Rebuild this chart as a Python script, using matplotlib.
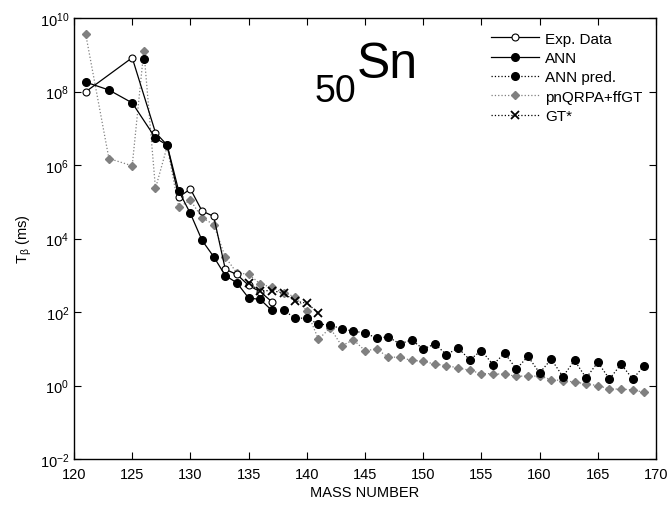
import numpy as np
import matplotlib
matplotlib.use("Agg")
import matplotlib.pyplot as plt
from matplotlib.ticker import LogLocator, NullLocator

plt.rcParams['font.family'] = ['Liberation Sans', 'DejaVu Sans']
plt.rcParams['mathtext.fontset'] = 'custom'
plt.rcParams['mathtext.rm'] = 'Liberation Sans'
plt.rcParams['mathtext.it'] = 'Liberation Sans:italic'
plt.rcParams['font.size'] = 10.5

# measured half-lives (ms)
exp_A = [121, 125, 127, 128, 129, 130, 131, 132, 133, 134, 135, 136, 137]
exp_T = [9.8e7, 8.3e8, 7.6e6, 3.5e6, 1.34e5, 2.23e5, 5.6e4, 4.0e4, 1.45e3, 1.05e3, 5.3e2, 3.55e2, 1.9e2]

# ANN fit on known nuclei
ann_A = [121, 123, 125, 127, 128, 129, 130, 131, 132, 133, 134, 135, 136, 137]
ann_T = [1.8e8, 1.1e8, 4.9e7, 5.4e6, 3.5e6, 1.95e5, 4.8e4, 8.9e3, 3.2e3, 9.8e2, 6.2e2, 2.4e2, 2.2e2, 1.1e2]

# ANN predictions
pred_A = [126, np.nan, 138, 139, 140, 141, 142, 143, 144, 145, 146, 147, 148, 149, 150, 151, 152, 153,
          154, 155, 156, 157, 158, 159, 160, 161, 162, 163, 164, 165, 166, 167, 168, 169]
pred_T = [7.6e8, np.nan, 1.12e2, 6.8e1, 6.8e1, 4.7e1, 4.4e1, 3.5e1, 3.0e1, 2.7e1, 1.95e1, 2.1e1, 1.35e1,
          1.75e1, 9.8, 1.35e1, 6.9, 1.05e1, 5.0, 8.9, 3.7, 7.6, 2.8, 6.2, 2.2, 5.2, 1.75, 4.8, 1.6, 4.3,
          1.5, 3.8, 1.5, 3.5]

# pnQRPA+ffGT
qrpa_A = [121, 123, 125, 126, 127, 128, 129, 130, 131, 132, 133, 134, 135, 136, 137, 138, 139, 140, 141,
          142, 143, 144, 145, 146, 147, 148, 149, 150, 151, 152, 153, 154, 155, 156, 157, 158, 159, 160,
          161, 162, 163, 164, 165, 166, 167, 168, 169]
qrpa_T = [3.7e9, 1.5e6, 9.5e5, 1.3e9, 2.3e5, 3.2e6, 7.1e4, 1.1e5, 3.7e4, 2.4e4, 3.1e3, 1.15e3, 1.07e3,
          5.8e2, 4.7e2, 3.3e2, 2.6e2, 1.07e2, 1.8e1, 3.7e1, 1.2e1, 1.75e1, 8.9, 9.8, 5.9, 5.9, 4.8, 4.6,
          3.8, 3.5, 3.0, 2.6, 2.1, 2.1, 2.0, 1.8, 1.8, 1.8, 1.45, 1.35, 1.25, 1.1, 1.0, 0.8, 0.8, 0.76, 0.65]

# GT*
gt_A = [135, 136, 137, 138, 139, 140, 141]
gt_T = [6.0e2, 3.8e2, 3.8e2, 3.3e2, 1.95e2, 1.75e2, 9.3e1]

grey = '#808080'

fig = plt.figure(figsize=(6.68, 5.06), dpi=100)
ax = fig.add_axes([74 / 668, 1 - 460 / 506, 582 / 668, 441 / 506])

h_q, = ax.plot(qrpa_A, qrpa_T, ls=':', color=grey, lw=0.9, marker='D', ms=4.5,
               mfc=grey, mec=grey, label='pnQRPA+ffGT')
h_e, = ax.plot(exp_A, exp_T, ls='-', color='k', lw=0.9, marker='o', ms=5,
               mfc='white', mec='k', mew=0.8, label='Exp. Data')
h_a, = ax.plot(ann_A, ann_T, ls='-', color='k', lw=0.9, marker='o', ms=5.5,
               mfc='k', mec='k', label='ANN')
h_p, = ax.plot(pred_A, pred_T, ls=':', color='k', lw=0.9, marker='o', ms=5.5,
               mfc='k', mec='k', label='ANN pred.')
h_g, = ax.plot(gt_A, gt_T, ls=':', color='k', lw=0.9, marker='x', ms=5.5,
               mew=1.3, label='GT*')

ax.set_yscale('log')
ax.set_xlim(120, 170)
ax.set_ylim(1e-2, 1e10)
ax.set_xticks(np.arange(120, 171, 5))
ax.yaxis.set_major_locator(LogLocator(base=100.0))
ax.yaxis.set_minor_locator(NullLocator())
ax.tick_params(direction='in', top=True, right=True, length=5, width=0.8, labelsize=10.5)
ax.tick_params(axis='x', pad=6)
for s in ax.spines.values():
    s.set_linewidth(1.0)

ax.set_xlabel('MASS NUMBER', fontsize=10.5, labelpad=3)
ax.set_ylabel(r'T$_\mathrm{\beta}$ (ms)', fontsize=10.5, labelpad=4)

ax.legend(handles=[h_e, h_a, h_p, h_q, h_g], loc='upper right', frameon=False,
          fontsize=11, handlelength=3.1, handletextpad=0.4, labelspacing=0.35,
          borderaxespad=0.5)

ax.text(0.414, 0.812, '50', transform=ax.transAxes, fontsize=27, ha='left', va='baseline')
ax.text(0.486, 0.866, 'Sn', transform=ax.transAxes, fontsize=36, ha='left', va='baseline')

fig.savefig('out.png', dpi=100)
